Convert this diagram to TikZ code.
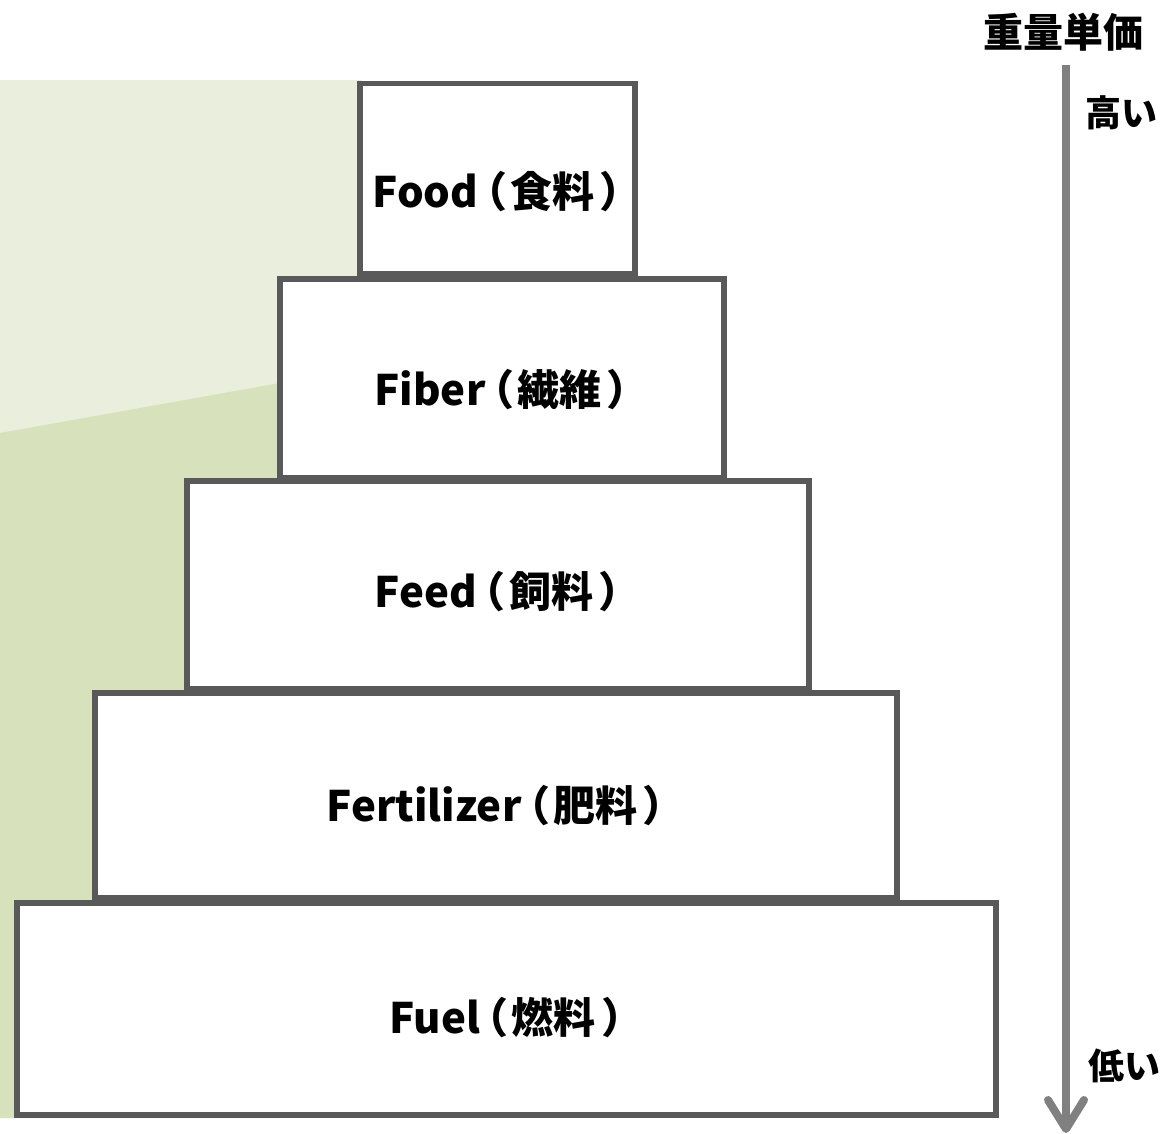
\documentclass[tikz,border=0pt]{standalone}
\usepackage{fontspec}
\newfontfamily\jpfont{Noto Sans CJK JP}[RawFeature=+palt]
\usetikzlibrary{calc,positioning}

\definecolor{tierline}{HTML}{595959}
\definecolor{bglight}{HTML}{E9EEDD}
\definecolor{bgdark}{HTML}{D7E2BD}
\definecolor{axisgray}{HTML}{808080}

% latin name + kanji in brackets
\newcommand{\tiertext}[2]{#1\kern6pt（\kern5pt#2\kern7pt）}

\tikzset{
  tier/.style={draw=tierline, line width=5.5pt, fill=white, inner sep=0pt},
  tierlbl/.style={font=\jpfont\bfseries\fontsize{42}{50}\selectfont, inner sep=0pt},
  scalelbl/.style={font=\jpfont\bfseries\fontsize{36}{40}\selectfont, inner sep=0pt},
  axis/.style={draw=axisgray, line width=8pt},
}

\begin{document}
\begin{tikzpicture}[x=1pt,y=-1pt]

\useasboundingbox (0,0) rectangle (1164,1134);

% background
\fill[bglight] (0,80) rectangle (362,1118);
\fill[bgdark] (0,433) -- (280,383) -- (280,1118) -- (0,1118) -- cycle;

% tiers
\node[tier, minimum width=275pt, minimum height=190pt] (food) at (497.5,178.75) {};
\node[tier, minimum width=444pt, minimum height=199pt] (fiber) at (502,378.5) {};
\node[tier, minimum width=622pt, minimum height=208pt] (feed) at (498,585) {};
\node[tier, minimum width=802pt, minimum height=205pt] (fert) at (496,795.5) {};
\node[tier, minimum width=979pt, minimum height=212pt] (fuel) at (506.5,1009) {};

\node[tierlbl] (foodtxt) at ([yshift=-13pt]food.center) {\tiertext{Food}{食料}};
\node[tierlbl] (fibertxt) at ([yshift=-11pt]fiber.center) {\tiertext{Fiber}{繊維}};
\node[tierlbl] (feedtxt) at ([yshift=-7pt]feed.center) {\tiertext{Feed}{飼料}};
\node[tierlbl] (terttxt) at ([yshift=-10pt]fert.center) {\tiertext{Fertilizer}{肥料}};
\node[tierlbl] (fueltxt) at ([yshift=-9pt]fuel.center) {\tiertext{Fuel}{燃料}};

% price axis
\node[scalelbl, font=\jpfont\bfseries\fontsize{40}{44}\selectfont] (unit) at (1063,32) {重量単価};
\node[scalelbl, anchor=west] (high) at (1085,113) {高い};
\node[scalelbl, anchor=west] (low) at (1088,1066) {低い};

\coordinate (axtop) at (1066,65);
\coordinate (axtip) at (1066,1129);
\draw[axis] (axtop) -- (axtip);
\draw[axis, line cap=round, line join=round]
  ($(axtip)+(-18,-29)$) -- (axtip) -- ($(axtip)+(18,-29)$);

\end{tikzpicture}
\end{document}
